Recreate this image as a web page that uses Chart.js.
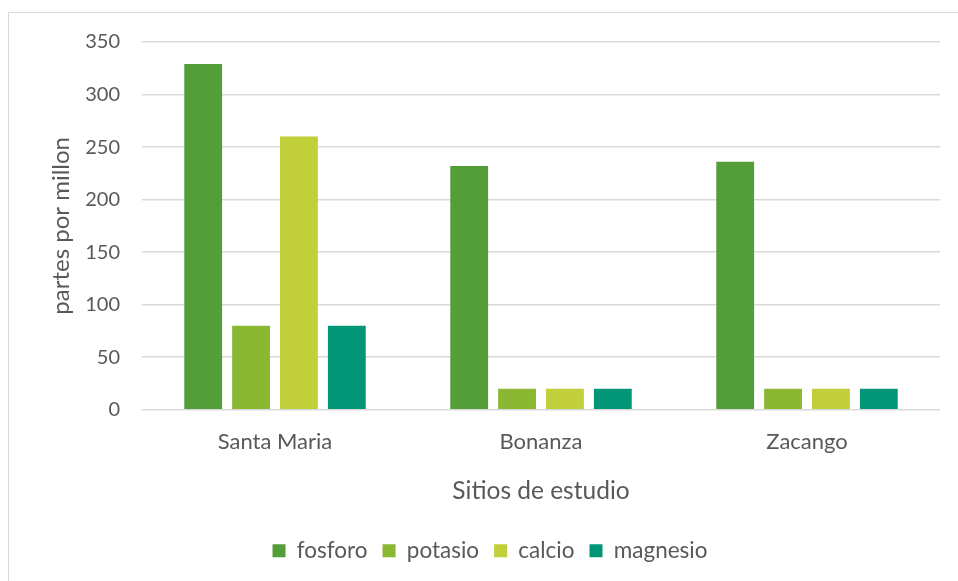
<!DOCTYPE html>
<html>
<head>
<meta charset="utf-8">
<script src="https://cdn.jsdelivr.net/npm/chart.js@4"></script>
<style>
  html, body { margin: 0; padding: 0; background: #fff; overflow: hidden; }
  #marco {
    position: absolute; left: 8px; top: 12px;
    width: 1000px; height: 620px;
    border: 1.5px solid #d9d9d9;
  }
  #lienzo { position: absolute; left: 0; top: 0; width: 958px; height: 581px; }
</style>
</head>
<body>
<div id="marco"></div>
<div id="lienzo"><canvas id="grafico"></canvas></div>
<script>
const sitios = ['Santa Maria', 'Bonanza', 'Zacango'];
const fosforo = [329, 232, 236];
const potasio = [80, 20, 20];
const calcio = [260, 20, 20];
const magnesio = [80, 20, 20];

const colorTexto = '#595959';
const fuente = 'Lato, "Open Sans", sans-serif';

const ctx = document.getElementById('grafico');

new Chart(ctx, {
  type: 'bar',
  data: {
    labels: sitios,
    datasets: [
      { label: 'fosforo', data: fosforo, backgroundColor: '#549E39' },
      { label: 'potasio', data: potasio, backgroundColor: '#8AB833' },
      { label: 'calcio', data: calcio, backgroundColor: '#C0CF3A' },
      { label: 'magnesio', data: magnesio, backgroundColor: '#029676' }
    ]
  },
  options: {
    responsive: true,
    maintainAspectRatio: false,
    animation: false,
    datasets: {
      bar: { categoryPercentage: 0.72, barPercentage: 0.79 }
    },
    layout: { padding: { left: 40, right: 18, top: 42, bottom: 9 } },
    plugins: {
      tooltip: { enabled: false },
      legend: {
        position: 'bottom',
        labels: {
          color: colorTexto,
          font: { family: fuente, size: 22.5 },
          boxWidth: 13,
          boxHeight: 13,
          padding: 15
        }
      }
    },
    scales: {
      x: {
        grid: { display: false, drawTicks: false },
        border: { display: false },
        ticks: { color: colorTexto, font: { family: fuente, size: 22 }, padding: 19 },
        title: {
          display: true,
          text: 'Sitios de estudio',
          color: colorTexto,
          font: { family: fuente, size: 24.5 },
          padding: { top: 2, bottom: 19 }
        }
      },
      y: {
        min: 0,
        max: 350,
        afterFit: s => { s.width = 102; },
        grid: { color: '#d9d9d9', lineWidth: 1.5, drawTicks: false },
        border: { display: false },
        ticks: {
          stepSize: 50,
          color: colorTexto,
          font: { family: fuente, size: 20 },
          padding: 22
        },
        title: {
          display: true,
          text: 'partes por millon',
          color: colorTexto,
          font: { family: fuente, size: 24 },
          padding: { top: 7, bottom: 0 }
        }
      }
    }
  }
});
</script>
</body>
</html>
